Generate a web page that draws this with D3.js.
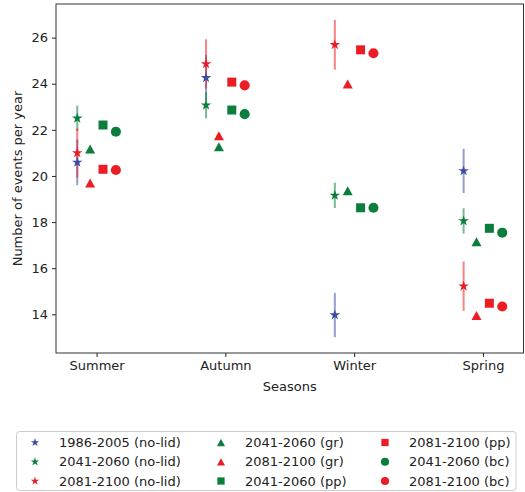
<!DOCTYPE html>
<html>
<head>
<meta charset="utf-8">
<script src="https://cdn.jsdelivr.net/npm/d3@7"></script>
<style>
  html, body { margin: 0; padding: 0; background: #fff; }
  svg { display: block; font-family: "DejaVu Sans", sans-serif; }
</style>
</head>
<body>
<svg id="chart" width="525" height="492"></svg>
<script>
// categories
var seasons = ["Summer", "Autumn", "Winter", "Spring"];

// no-lid runs (star markers, with error bars)
var noLid1986 = [20.59, 24.26, 13.97, 20.22];
var noLid1986Err = [0.99, 0.99, 0.96, 0.96];
var noLid2041 = [22.5, 23.07, 19.16, 18.05];
var noLid2041Err = [0.55, 0.57, 0.55, 0.55];
var noLid2081 = [21.0, 24.86, 25.69, 15.22];
var noLid2081Err = [1.07, 1.07, 1.08, 1.07];

// other schemes
var gr2041 = [21.17, 21.27, 19.36, 17.15];
var gr2081 = [19.7, 21.74, 23.99, 13.95];
var pp2041 = [22.21, 22.86, 18.62, 17.73];
var pp2081 = [20.29, 24.07, 25.47, 14.48];
var bc2041 = [21.92, 22.68, 18.62, 17.54];
var bc2081 = [20.26, 23.93, 25.32, 14.34];

var yTicks = [14, 16, 18, 20, 22, 24, 26];

var BLUE = "#3a4fa2", GREEN = "#0b7d3c", RED = "#ec1c24";

// matplotlib style triangle: centred on its bounding box
var symbolTriUp = {
    draw: function (ctx, size) {
        var h = Math.sqrt(size) / 2;
        ctx.moveTo(0, -h * 0.9);
        ctx.lineTo(h, h * 0.9);
        ctx.lineTo(-h, h * 0.9);
        ctx.closePath();
    }
};

var series = [
    { label: "1986-2005 (no-lid)", values: noLid1986, err: noLid1986Err, color: BLUE, shape: d3.symbolStar, size: 34, off: -0.15 },
    { label: "2041-2060 (no-lid)", values: noLid2041, err: noLid2041Err, color: GREEN, shape: d3.symbolStar, size: 34, off: -0.15 },
    { label: "2081-2100 (no-lid)", values: noLid2081, err: noLid2081Err, color: RED, shape: d3.symbolStar, size: 34, off: -0.15 },
    { label: "2041-2060 (gr)", values: gr2041, color: GREEN, shape: symbolTriUp, size: 100, off: -0.05 },
    { label: "2081-2100 (gr)", values: gr2081, color: RED, shape: symbolTriUp, size: 100, off: -0.05 },
    { label: "2041-2060 (pp)", values: pp2041, color: GREEN, shape: d3.symbolSquare, size: 81, off: 0.05 },
    { label: "2081-2100 (pp)", values: pp2081, color: RED, shape: d3.symbolSquare, size: 81, off: 0.05 },
    { label: "2041-2060 (bc)", values: bc2041, color: GREEN, shape: d3.symbolCircle, size: 80, off: 0.15 },
    { label: "2081-2100 (bc)", values: bc2081, color: RED, shape: d3.symbolCircle, size: 80, off: 0.15 }
];

var svg = d3.select("#chart");
var margin = { left: 56, right: 1.5, top: 4, bottom: 139 };
var W = 525, H = 492;
var pw = W - margin.left - margin.right;
var ph = H - margin.top - margin.bottom;

// autoscale like matplotlib: 5% margins around the data
var lo = d3.min(series, function (s) {
    return d3.min(s.values, function (v, i) { return v - (s.err ? s.err[i] : 0); });
});
var hi = d3.max(series, function (s) {
    return d3.max(s.values, function (v, i) { return v + (s.err ? s.err[i] : 0); });
});
var pad = (hi - lo) * 0.05;
var xLo = -0.15, xHi = seasons.length - 1 + 0.15, xPad = (xHi - xLo) * 0.05;

var x = d3.scaleLinear().domain([xLo - xPad, xHi + xPad]).range([0, pw]);
var y = d3.scaleLinear().domain([lo - pad, hi + pad]).range([ph, 0]);

var g = svg.append("g").attr("transform", "translate(" + margin.left + "," + margin.top + ")");

// axes
var xAxis = g.append("g")
    .attr("transform", "translate(0," + ph + ")")
    .call(d3.axisBottom(x).tickValues(d3.range(seasons.length))
        .tickFormat(function (i) { return seasons[i]; }).tickSizeOuter(0).tickSize(4).tickPadding(4));
var yAxis = g.append("g")
    .call(d3.axisLeft(y).tickValues(yTicks).tickSizeOuter(0).tickSize(4).tickPadding(4));

[xAxis, yAxis].forEach(function (a) {
    a.select(".domain").remove();
    a.selectAll("line").attr("stroke", "#222");
    a.selectAll("text").attr("font-size", 13).attr("fill", "#222")
        .attr("font-family", "DejaVu Sans, sans-serif");
});

// frame
g.append("rect").attr("x", 0).attr("y", 0).attr("width", pw).attr("height", ph)
    .attr("fill", "none").attr("stroke", "#333").attr("stroke-width", 1);

// error bars
series.forEach(function (s) {
    if (!s.err) return;
    g.append("g").selectAll("line").data(s.values).enter().append("line")
        .attr("x1", function (d, i) { return x(i + s.off); })
        .attr("x2", function (d, i) { return x(i + s.off); })
        .attr("y1", function (d, i) { return y(d - s.err[i]); })
        .attr("y2", function (d, i) { return y(d + s.err[i]); })
        .attr("stroke", s.color).attr("stroke-opacity", 0.55).attr("stroke-width", 2);
});

// markers
series.forEach(function (s) {
    var sym = d3.symbol().type(s.shape).size(s.size);
    g.append("g").selectAll("path").data(s.values).enter().append("path")
        .attr("d", sym)
        .attr("transform", function (d, i) { return "translate(" + x(i + s.off) + "," + y(d) + ")"; })
        .attr("fill", s.color);
});

// axis titles
svg.append("text")
    .attr("x", margin.left + pw / 2).attr("y", 391)
    .attr("text-anchor", "middle").attr("font-size", 13).attr("fill", "#222")
    .text("Seasons");
svg.append("text")
    .attr("transform", "translate(22," + (margin.top + ph / 2) + ") rotate(-90)")
    .attr("text-anchor", "middle").attr("font-size", 13).attr("fill", "#222")
    .text("Number of events per year");

// legend: 3 columns, column-major order
var leg = svg.append("g");
leg.append("rect").attr("x", 16.5).attr("y", 431.5).attr("width", 499.5).attr("height", 59)
    .attr("rx", 3).attr("fill", "#fff").attr("stroke", "#ccc").attr("stroke-width", 1);
var colX = [35, 221, 385];
var rowY = [442.5, 461.8, 481];
series.forEach(function (s, k) {
    var c = Math.floor(k / 3), r = k % 3;
    var sym = d3.symbol().type(s.shape).size(s.size * 0.65);
    leg.append("path").attr("d", sym)
        .attr("transform", "translate(" + colX[c] + "," + rowY[r] + ")")
        .attr("fill", s.color);
    leg.append("text").attr("x", colX[c] + 24).attr("y", rowY[r] + 4.5)
        .attr("font-size", 13).attr("fill", "#222").text(s.label);
});
</script>
</body>
</html>
